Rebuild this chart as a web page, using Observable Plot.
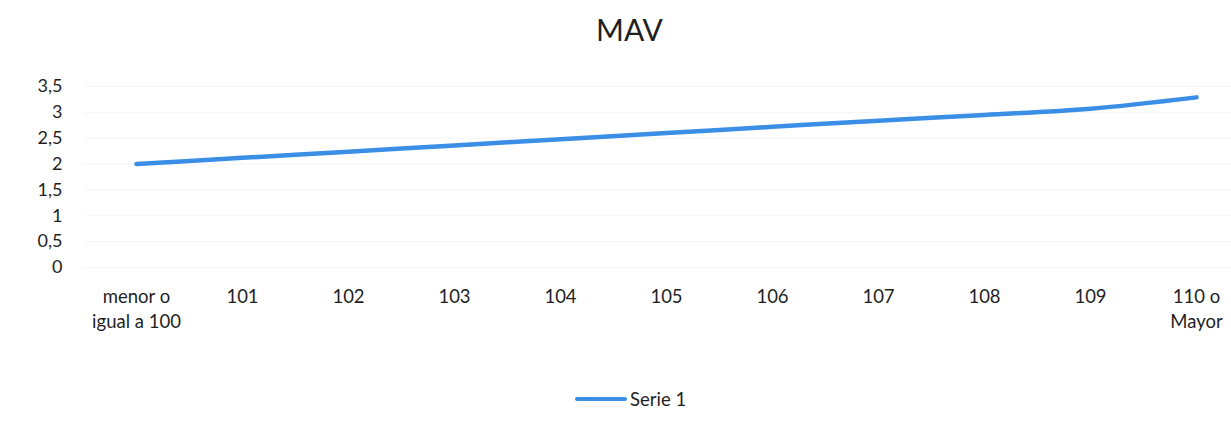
<!DOCTYPE html>
<html>
<head>
<meta charset="utf-8">
<script src="https://cdn.jsdelivr.net/npm/d3@7"></script>
<script src="https://cdn.jsdelivr.net/npm/@observablehq/plot@0.6"></script>
<style>
  html, body { margin: 0; padding: 0; background: #fff; }
  #wrap { position: relative; width: 1231px; height: 431px; font-family: Lato, "Open Sans", sans-serif; color: #1f1f1f; }
  #title { position: absolute; top: 11px; left: 28px; width: 1203px; text-align: center; font-size: 30px; line-height: 36px; }
  #chart { position: absolute; top: 65px; left: 0; }
  #legend { position: absolute; top: 388px; left: 575px; display: flex; align-items: center; font-size: 18.5px; }
  #legend .sw { width: 52px; height: 4.5px; background: #3a8ee6; border-radius: 2px; margin-right: 3px; }
</style>
</head>
<body>
<div id="wrap">
  <div id="title">MAV</div>
  <div id="chart"></div>
  <div id="legend"><span class="sw"></span><span>Serie 1</span></div>
</div>
<script>
const categories = ["menor o\nigual a 100", "101", "102", "103", "104", "105", "106", "107", "108", "109", "110 o\nMayor"];
const serie1 = [2.0, 2.12, 2.24, 2.36, 2.48, 2.60, 2.72, 2.84, 2.95, 3.07, 3.29];
const yTicks = [0, 0.5, 1, 1.5, 2, 2.5, 3, 3.5];
const seriesName = "Serie 1";

const data = categories.map((c, i) => ({cat: c, value: serie1[i], serie: seriesName}));

const chart = Plot.plot({
  width: 1231,
  height: 290,
  marginTop: 21,
  marginBottom: 88,
  marginLeft: 134,
  marginRight: 34,
  style: {fontFamily: "Lato, 'Open Sans', sans-serif", fontSize: "18px", color: "#1f1f1f", background: "transparent", overflow: "visible"},
  x: {type: "point", domain: categories, padding: 0},
  y: {domain: [0, 3.5]},
  marks: [
    Plot.ruleY(yTicks, {stroke: "#f5f5f5", strokeWidth: 1, insetLeft: -50, insetRight: -34}),
    Plot.axisY({ticks: yTicks, tickSize: 0, tickPadding: 72, tickFormat: d => String(d).replace(".", ","), fontSize: 18, label: null}),
    Plot.axisX({tickSize: 0, tickPadding: 18, fontSize: 18.5, lineHeight: 1.35, label: null}),
    Plot.line(data, {x: "cat", y: "value", stroke: "#3a8ee6", strokeWidth: 4.5, curve: "monotone-x", strokeLinecap: "round"})
  ]
});
document.getElementById("chart").appendChild(chart);
</script>
</body>
</html>
